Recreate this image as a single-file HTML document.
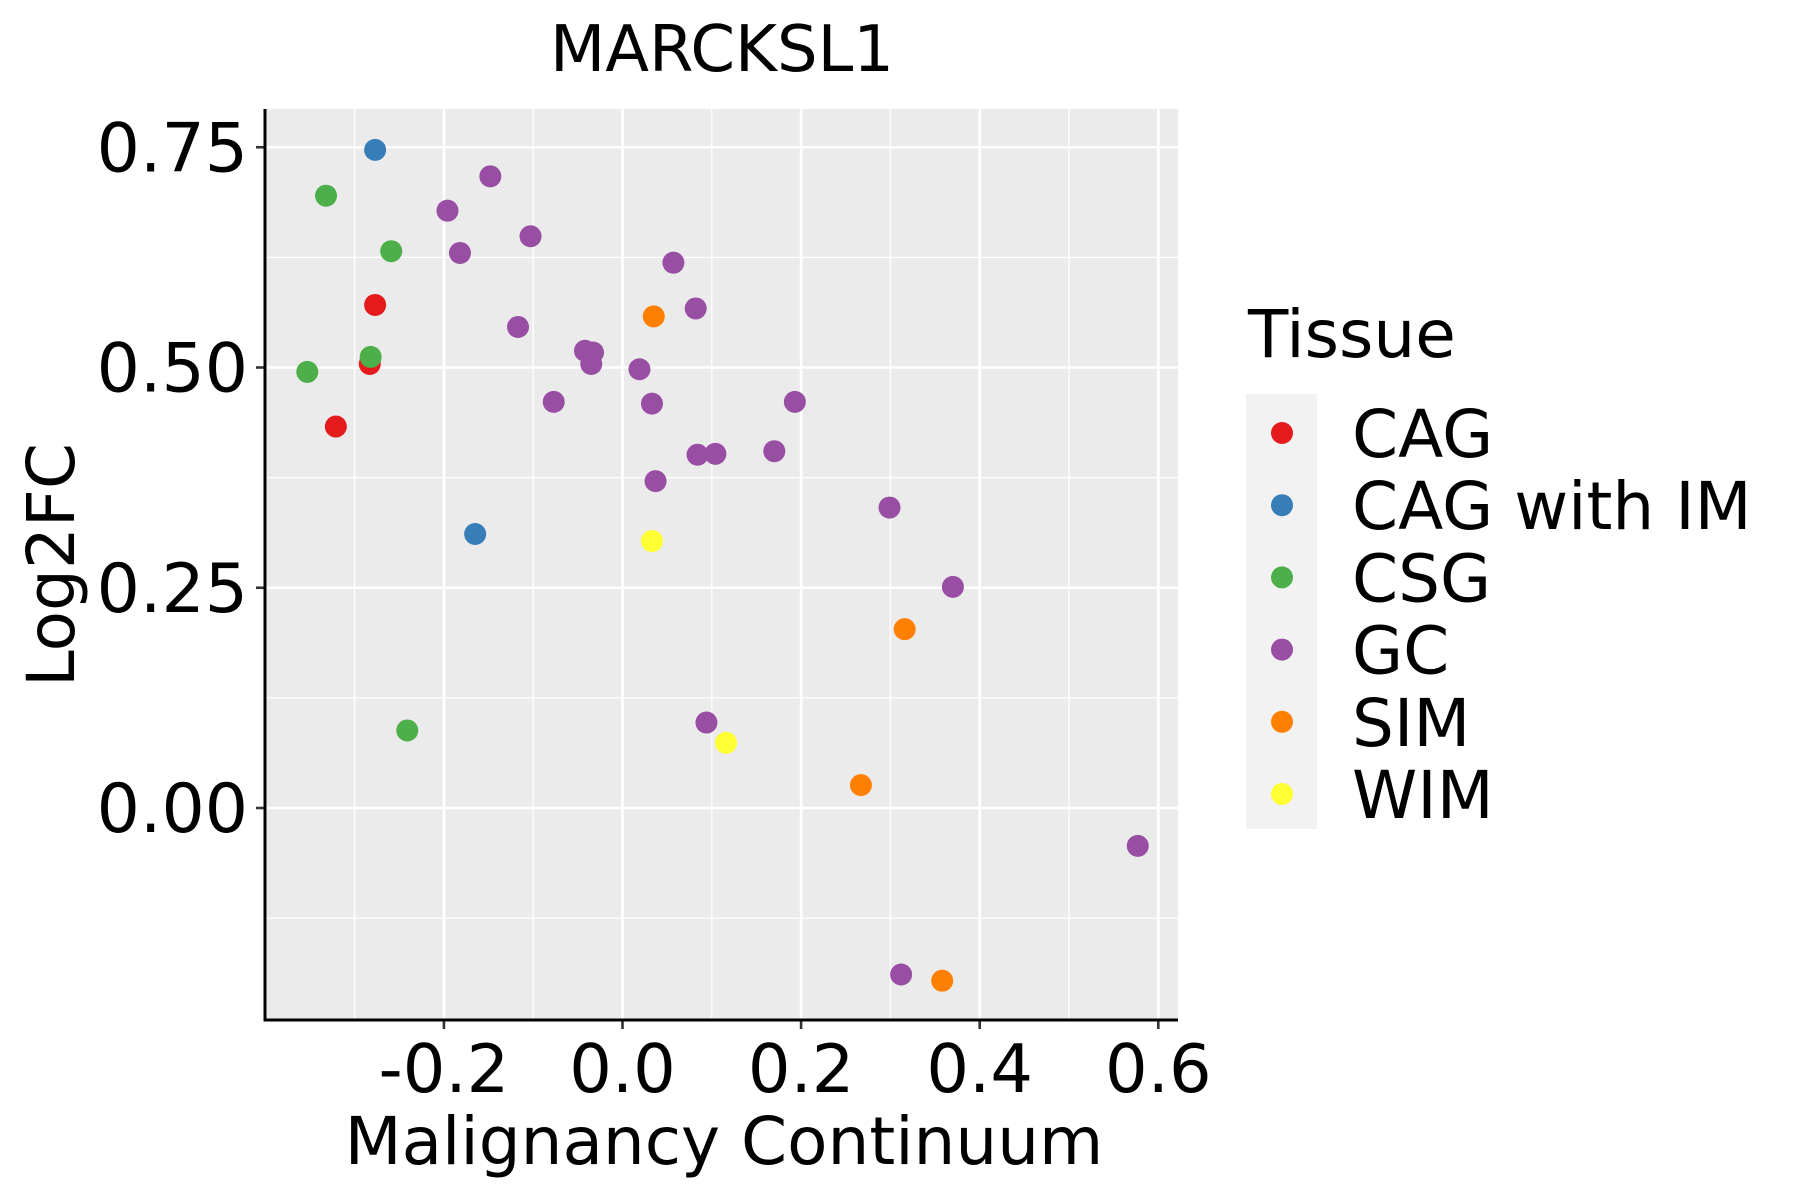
<!DOCTYPE html>
<html><head><meta charset="utf-8"><style>
html,body{margin:0;padding:0;background:#fff;}
svg{display:block;font-family:"DejaVu Sans","Liberation Sans",sans-serif;}
</style></head><body>
<svg id="chart" width="1800" height="1200" viewBox="0 0 1800 1200">
<text x="722" y="71" font-size="64" text-anchor="middle">MARCKSL1</text>
<g id="plot"></g>
<g id="legend"></g>
</svg>
<script>
const groups = ["CAG","CAG with IM","CSG","GC","SIM","WIM"];
const colors = ["#E41A1C","#377EB8","#4DAF4A","#984EA3","#FF7F00","#FFFF33"];
const xCAG=[-0.277,-0.283,-0.321], yCAG=[0.571,0.504,0.433];
const xIM=[-0.277,-0.165], yIM=[0.747,0.311];
const xCSG=[-0.332,-0.259,-0.282,-0.353,-0.241], yCSG=[0.695,0.632,0.512,0.495,0.088];
const xGC=[-0.148,-0.196,-0.103,-0.182,0.057,-0.117,0.082,-0.042,-0.033,-0.035,0.019,-0.077,0.033,0.193,0.084,0.104,0.170,0.037,0.299,0.370,0.094,0.577,0.312];
const yGC=[0.717,0.678,0.649,0.630,0.619,0.546,0.567,0.519,0.517,0.504,0.498,0.461,0.459,0.461,0.401,0.402,0.405,0.371,0.341,0.251,0.097,-0.043,-0.189];
const xSIM=[0.035,0.316,0.267,0.358], ySIM=[0.558,0.203,0.026,-0.196];
const xWIM=[0.033,0.116], yWIM=[0.303,0.074];
const xTicks=[-0.2,0.0,0.2,0.4,0.6], xTickLabels=["-0.2","0.0","0.2","0.4","0.6"];
const yTicks=[0.0,0.25,0.5,0.75], yTickLabels=["0.00","0.25","0.50","0.75"];
const xMinor=[-0.3,-0.1,0.1,0.3,0.5], yMinor=[-0.125,0.125,0.375,0.625];

const NS="http://www.w3.org/2000/svg";
const L=265,R=1178,T=109,B=1020;
const xs=v=>622.5+v*893;
const ys=v=>808-v*881;
const plot=document.getElementById('plot');
function el(tag,attrs,parent){const e=document.createElementNS(NS,tag);for(const k in attrs)e.setAttribute(k,attrs[k]);(parent||plot).appendChild(e);return e;}

const bg=el('rect',{x:L,y:T,width:R-L,height:B-T,fill:'#EBEBEB'});


xMinor.forEach(v=>{const g=el('line',{x1:xs(v),x2:xs(v),y1:T,y2:B,stroke:'#fff','stroke-width':1.3});

});
yMinor.forEach(v=>{const g=el('line',{x1:L,x2:R,y1:ys(v),y2:ys(v),stroke:'#fff','stroke-width':1.3});

});
xTicks.forEach((v,i)=>{const g=el('line',{x1:xs(v),x2:xs(v),y1:T,y2:B,stroke:'#fff','stroke-width':2.6});


const t=el('line',{x1:xs(v),x2:xs(v),y1:B,y2:B+9,stroke:'#333','stroke-width':2.6});


const lb=el('text',{x:xs(v),y:1092,'font-size':67,'text-anchor':'middle',fill:'#000'});lb.textContent=xTickLabels[i];

});
yTicks.forEach((v,i)=>{const g=el('line',{x1:L,x2:R,y1:ys(v),y2:ys(v),stroke:'#fff','stroke-width':2.6});


const t=el('line',{x1:L-9,x2:L,y1:ys(v),y2:ys(v),stroke:'#333','stroke-width':2.6});


const lb=el('text',{x:L-17,y:ys(v)+24,'font-size':68,'text-anchor':'end',fill:'#000'});lb.textContent=yTickLabels[i];

});
const ax=el('path',{d:`M${L},${T} V${B} H${R}`,fill:'none',stroke:'#000','stroke-width':3});


const xt=el('text',{x:724,y:1164,'font-size':66,'text-anchor':'middle'});xt.textContent='Malignancy Continuum';


const yt=el('text',{x:0,y:0,'font-size':66,'text-anchor':'middle',transform:'translate(74,565) rotate(-90)'});yt.textContent='Log2FC';



const series=[[xCAG,yCAG],[xIM,yIM],[xCSG,yCSG],[xGC,yGC],[xSIM,ySIM],[xWIM,yWIM]];
series.forEach((s,gi)=>{s[0].forEach((xv,i)=>{const c=el('circle',{cx:xs(xv),cy:ys(s[1][i]),r:11,fill:colors[gi]});

});});

const lg=document.getElementById('legend');
const lt=el('text',{x:1248,y:357,'font-size':66},lg);lt.textContent='Tissue';


const kb=el('rect',{x:1246,y:394,width:71,height:435,fill:'#F2F2F2'},lg);


groups.forEach((g,i)=>{const y=433+i*72.2;
const c=el('circle',{cx:1282,cy:y,r:11,fill:colors[i]},lg);


const t=el('text',{x:1352,y:y+24,'font-size':66},lg);t.textContent=g;

});
</script>
</body></html>
